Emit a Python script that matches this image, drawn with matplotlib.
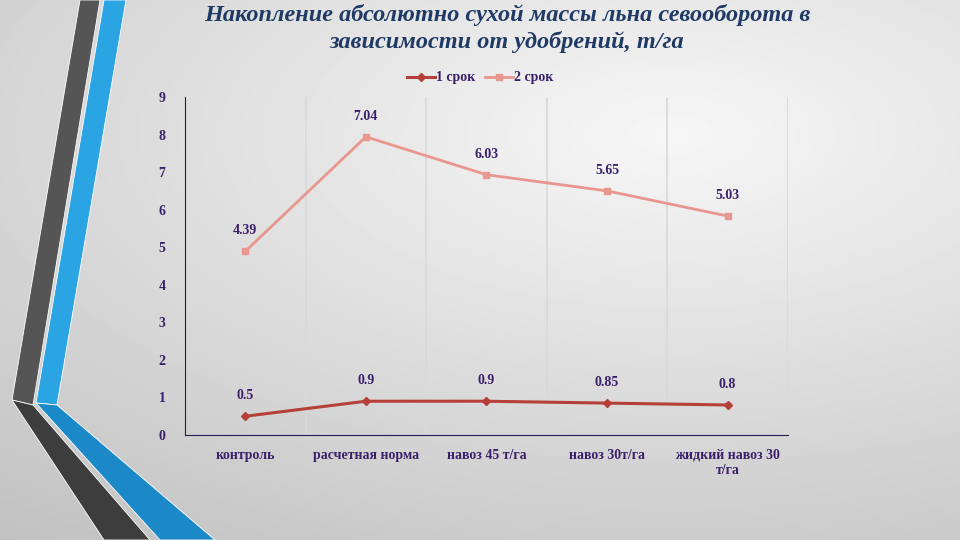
import numpy as np
import matplotlib
matplotlib.use("Agg")
from matplotlib import pyplot as plt
from matplotlib.patches import Polygon

plt.rcParams['font.family'] = ['Liberation Serif', 'DejaVu Serif']

# data (stacked line chart: second series is drawn on top of the first)
categories = ['контроль', 'расчетная норма', 'навоз 45 т/га', 'навоз 30т/га', 'жидкий навоз 30\nт/га']
srok1 = [0.5, 0.9, 0.9, 0.85, 0.8]
srok2 = [4.39, 7.04, 6.03, 5.65, 5.03]
series_names = ['1 срок', '2 срок']
yticks = list(range(0, 10))

txt_col = '#3b1f6b'
c1 = '#b5403a'
c2 = '#e8968e'

fig = plt.figure(figsize=(9.6, 5.4), dpi=100)

# background gradient
bg = fig.add_axes([0, 0, 1, 1], zorder=-10)
yy, xx = np.mgrid[0:1:540j, 0:1:960j]
d = np.sqrt(((xx - 0.7) / 1.2) ** 2 + ((yy - 0.25) / 1.0) ** 2)
bg.imshow(0.965 - 0.22 * d, cmap='gray', vmin=0, vmax=1, extent=[0, 960, 540, 0],
          aspect='auto', interpolation='bilinear')
bg.set_xlim(0, 960)
bg.set_ylim(540, 0)
bg.axis('off')

# left decorative stripes (pixel coords, y down)
stripes = [
    ([(80, 0), (100, 0), (33, 405), (12, 400)], '#555555'),
    ([(12, 400), (33, 405), (150, 540), (104, 540)], '#3d3d3d'),
    ([(104, 0), (126, 0), (57, 405), (36, 403)], '#2aa4e2'),
    ([(36, 403), (57, 405), (215, 540), (160, 540)], '#1b89c8'),
]
for pts, col in stripes:
    bg.add_patch(Polygon(pts, closed=True, facecolor=col, edgecolor='white', lw=0.6))

ax = fig.add_axes([0.1927, 0.1944, 0.628, 0.626])
ax.patch.set_alpha(0)
x = np.arange(len(categories))
top = np.array(srok1) + np.array(srok2)

ax.plot(x, srok1, color=c1, lw=2.2, marker='D', ms=4, label=series_names[0], zorder=3)
ax.plot(x, top, color=c2, lw=2.0, marker='s', ms=5, label=series_names[1], zorder=3)

for xi, yv, lab in zip(x, srok1, srok1):
    ax.annotate(f'{lab:g}', (xi, yv), xytext=(0, 10), textcoords='offset points',
                ha='center', va='bottom', color=txt_col, fontsize=10, fontweight='bold')
for xi, yv, lab in zip(x, top, srok2):
    ax.annotate(f'{lab:g}', (xi, yv), xytext=(0, 10), textcoords='offset points',
                ha='center', va='bottom', color=txt_col, fontsize=10, fontweight='bold')

ax.set_xlim(-0.5, len(categories) - 0.5)
ax.set_ylim(0, 9)
ax.set_yticks(yticks)
ax.set_xticks(x)
ax.set_xticklabels(categories)
for xv in np.arange(0.5, len(categories), 1):
    ax.axvline(xv, color='#d9d9d9', lw=1.2, zorder=1)
ax.tick_params(axis='both', length=0, colors=txt_col, labelsize=10)
ax.tick_params(axis='y', pad=14)
ax.tick_params(axis='x', pad=10)
for lab in ax.get_xticklabels() + ax.get_yticklabels():
    lab.set_fontweight('bold')
for s in ['top', 'right']:
    ax.spines[s].set_visible(False)
ax.spines['left'].set_color('#1f1f4f')
ax.spines['bottom'].set_color('#1f1f4f')

leg = ax.legend(loc='lower center', bbox_to_anchor=(0.49, 1.0), ncol=2, frameon=False,
                fontsize=10, handlelength=2.0, columnspacing=0.7, handletextpad=0.1)
for t in leg.get_texts():
    t.set_color(txt_col)
    t.set_fontweight('bold')

fig.text(0.528, 0.993, 'Накопление абсолютно сухой массы льна севооборота в\nзависимости от удобрений, т/га',
         ha='center', va='top', fontsize=17.5, fontweight='bold', fontstyle='italic',
         color='#1f3a64', linespacing=1.3)

fig.savefig('out.png', dpi=100)
